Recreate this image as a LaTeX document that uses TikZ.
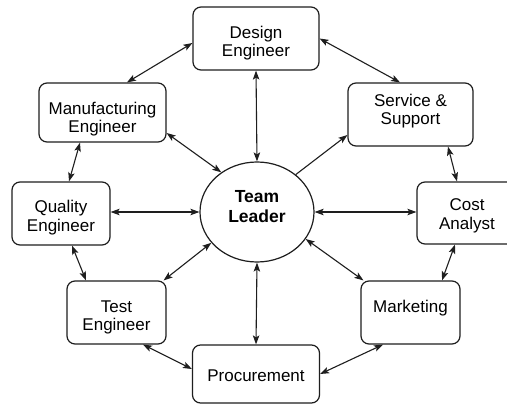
\documentclass[tikz,border=0pt]{standalone}
\usepackage{fontspec}
\setmainfont{Liberation Sans}
\usetikzlibrary{arrows.meta,shapes.geometric}
\definecolor{linec}{HTML}{1E1E1E}
\newcommand{\twol}[3]{\raisebox{#1}[0pt][0pt]{\begin{tabular}[t]{@{}c@{}}#2\\#3\end{tabular}}}
\newcommand{\onel}[2]{\raisebox{#1}[0pt][0pt]{#2}}
\begin{document}
\begin{tikzpicture}[x=1pt,y=-1pt,
  box/.style={draw=linec, line width=1.2pt, rounded corners=8pt,
    font=\fontsize{17}{18.5}\selectfont, text=black, inner sep=0pt},
  hub/.style={draw=linec, line width=1.2pt, ellipse, inner sep=0pt,
    font=\bfseries\fontsize{17.5}{20}\selectfont, text=black},
  tip/.tip={Stealth[length=9pt,width=6.5pt,inset=2pt]},
  link/.style={line width=1.1pt, draw=linec, tip-tip},
  onelink/.style={line width=1.1pt, draw=linec, -tip}]
\fill[white] (0,0) rectangle (507,404);
\useasboundingbox (0,0) rectangle (507,404);

\node[box, minimum width=126pt, minimum height=63pt] (design) at (256,38.5) {\twol{0.2pt}{Design}{Engineer}};
\node[box, minimum width=127pt, minimum height=59pt] (manuf) at (102.5,112.5) {\twol{-1.8pt}{Manufacturing}{Engineer}};
\node[box, minimum width=125pt, minimum height=63pt] (service) at (410.5,114.5) {\twol{8pt}{Service \&}{Support}};
\node[box, minimum width=98pt, minimum height=63pt] (quality) at (61,213.5) {\twol{1pt}{Quality}{Engineer}};
\node[box, minimum width=100pt, minimum height=62pt] (cost) at (467,213) {\twol{2pt}{Cost}{Analyst}};
\node[hub, minimum width=114pt, minimum height=100pt] (team) at (257,212) {\twol{9.4pt}{Team}{Leader}};
\node[box, minimum width=99pt, minimum height=63pt] (test) at (116.5,312.5) {\twol{0.5pt}{Test}{Engineer}};
\node[box, minimum width=99pt, minimum height=63pt] (market) at (410.5,312.5) {\onel{0.4pt}{Marketing}};
\node[box, minimum width=127pt, minimum height=58pt] (procure) at (256,374) {\onel{-7.9pt}{Procurement}};

\draw[link] ([yshift=-4.5pt]design.west) -- ([xshift=24.5pt]manuf.north);
\draw[link] (design.east) -- ([xshift=-10.5pt]service.north);
\draw[link] (design.south) -- (team.north);
\draw[link] ([yshift=-20.5pt]manuf.east) -- (team.132);
\draw[onelink] (team.44) -- ([yshift=-20.5pt]service.west);
\draw[link] ([xshift=-22.5pt]manuf.south) -- ([xshift=8pt]quality.north);
\draw[link] ([xshift=37.5pt]service.south) -- ([xshift=-10pt]cost.north);
\draw[link] (team.west) -- (quality.east |- team.west);
\draw[link] (team.east) -- (cost.west |- team.east);
\draw[link] ([xshift=11pt]quality.south) -- ([xshift=-30.5pt]test.north);
\draw[link] (team.214) -- ([xshift=-3pt]test.north east);
\draw[link] (team.331) -- ([xshift=3pt]market.north west);
\draw[link] ([xshift=-12pt]cost.south) -- ([xshift=31.5pt]market.north);
\draw[link] (team.south) -- (procure.north);
\draw[link] ([xshift=26.5pt]test.south) -- ([yshift=5pt]procure.west);
\draw[link] ([xshift=-27.5pt]market.south) -- (procure.east);
\end{tikzpicture}
\end{document}
